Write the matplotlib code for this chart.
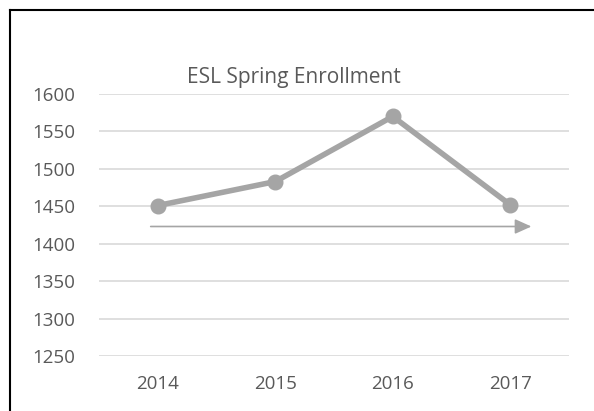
import matplotlib.pyplot as plt
from matplotlib.lines import Line2D

years = ['2014', '2015', '2016', '2017']
enrollment = [1451, 1483, 1570, 1452]
yticks = [1250, 1300, 1350, 1400, 1450, 1500, 1550, 1600]
# trend arrow drawn under the line (start x, end x, y)
arrow_x = [-0.06, 3.18]
arrow_y = 1423

W, H = 594, 411
fig = plt.figure(figsize=(W / 100, H / 100), dpi=100)
plt.rcParams['font.family'] = ['Open Sans', 'DejaVu Sans']

ax = fig.add_axes([99 / W, 1 - 356 / H, 470 / W, 262 / H])
ax.set_xlim(-0.5, 3.5)
ax.set_ylim(1250, 1600)

ax.set_yticks(yticks)
ax.grid(axis='y', color='#D9D9D9', linewidth=1.2)
ax.set_axisbelow(True)
for s in ax.spines.values():
    s.set_visible(False)
ax.tick_params(length=0, labelsize=13.5, colors='#595959')
ax.tick_params(axis='y', pad=17)
ax.tick_params(axis='x', pad=14)
ax.set_xticks(range(len(years)))
ax.set_xticklabels(years)

ax.annotate('', xy=(arrow_x[1], arrow_y), xytext=(arrow_x[0], arrow_y),
            arrowprops=dict(arrowstyle='-|>,head_length=1.0,head_width=0.45',
                            color='#A5A5A5', lw=1.2, shrinkA=0, shrinkB=0))

ax.plot(range(len(years)), enrollment, color='#A5A5A5', linewidth=4,
        marker='o', markersize=10.5, solid_capstyle='round')

fig.text(294 / W, 1 - 77 / H, 'ESL Spring Enrollment', ha='center', va='center',
         fontsize=15, color='#595959')

# frame: left and top edges only
fig.add_artist(Line2D([10 / W, 10 / W], [0, 1 - 10 / H], color='black', lw=1.5,
                      transform=fig.transFigure))
fig.add_artist(Line2D([10 / W, 1], [1 - 10 / H, 1 - 10 / H], color='black', lw=1.5,
                      transform=fig.transFigure))

fig.savefig('out.png', dpi=100)
